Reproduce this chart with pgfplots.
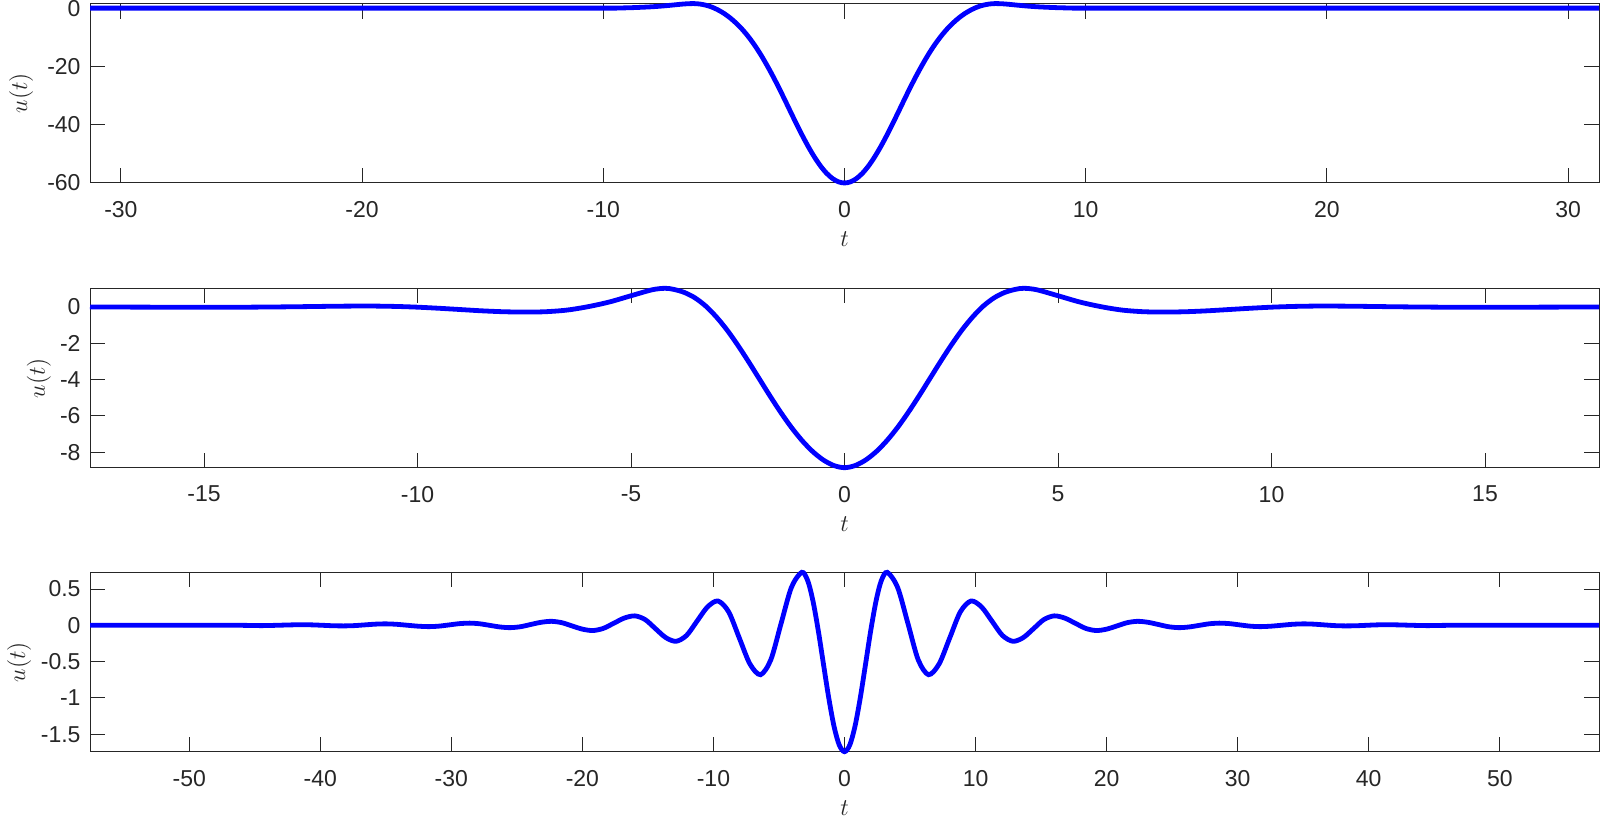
\documentclass[border=0pt]{standalone}
\usepackage{fontspec}
\setmainfont{Liberation Sans}
\usepackage{pgfplots}
\pgfplotsset{compat=1.18}
\definecolor{axgray}{rgb}{0.15,0.15,0.15}
\pgfplotsset{
  panel/.style={
    width=754.5pt, height=89.7pt, scale only axis,
    clip=false, anchor=south west,
    axis line style={axgray, line width=0.5pt},
    tick style={axgray, line width=0.5pt},
    major tick length=7.5pt,
    tick align=inside,
    /pgf/number format/assume math mode=true,
    ticklabel style={font=\fontsize{11.5}{13}\selectfont, text=axgray},
    xticklabel style={yshift=-5.7pt},
    yticklabel style={xshift=-1.2pt},
    label style={font=\fontsize{12.5}{15}\selectfont, text=axgray},
    xlabel={$t$}, ylabel={$u(t)$},
    xlabel style={at={(axis description cs:0.5,0)}, anchor=base, yshift=-32pt},
    scaled y ticks=false,
  },
  curve/.style={blue, line width=2.4pt, smooth, mark=none},
}
\begin{document}
\begin{tikzpicture}
\useasboundingbox (0,0) rectangle (800pt,409.5pt);

% top panel
\begin{axis}[panel, at={(45pt,318pt)},
  xmin=-31.28, xmax=31.28, ymin=-60, ymax=1.55,
  xtick={-30,-20,-10,0,10,20,30}, ytick={-60,-40,-20,0},
  ylabel style={at={(axis description cs:-0.0457,0.5)}, anchor=center}]
\addplot[curve] table {
-31.28 0
-11 0
-10 0
-9.5 0.03
-9 0.1
-8.5 0.25
-8 0.45
-7.5 0.75
-7 1.15
-6.75 1.35
-6.5 1.5
-6.25 1.55
-6 1.4
-5.75 1.0
-5.5 0.35
-5.25 -0.6
-5 -1.8
-4.75 -3.3
-4.5 -5.1
-4.25 -7.2
-4 -9.65
-3.75 -12.45
-3.5 -15.6
-3.25 -19.1
-3 -22.85
-2.75 -26.85
-2.5 -31.05
-2.25 -35.35
-2 -39.6
-1.75 -43.7
-1.5 -47.55
-1.25 -51.05
-1 -54.1
-0.75 -56.6
-0.5 -58.45
-0.25 -59.6
0 -60
0.25 -59.6
0.5 -58.45
0.75 -56.6
1 -54.1
1.25 -51.05
1.5 -47.55
1.75 -43.7
2 -39.6
2.25 -35.35
2.5 -31.05
2.75 -26.85
3 -22.85
3.25 -19.1
3.5 -15.6
3.75 -12.45
4 -9.65
4.25 -7.2
4.5 -5.1
4.75 -3.3
5 -1.8
5.25 -0.6
5.5 0.35
5.75 1.0
6 1.4
6.25 1.55
6.5 1.5
6.75 1.35
7 1.15
7.5 0.75
8 0.45
8.5 0.25
9 0.1
9.5 0.03
10 0
11 0
31.28 0
};
\end{axis}

% middle panel
\begin{axis}[panel, at={(45pt,175.65pt)},
  xmin=-17.67, xmax=17.67, ymin=-8.85, ymax=1.03,
  xtick={-15,-10,-5,0,5,10,15}, ytick={-8,-6,-4,-2,0},
  ylabel style={at={(axis description cs:-0.0338,0.5)}, anchor=center}]
\addplot[curve] table {
-17.67 0
-16 -0.01
-15 -0.015
-14 -0.01
-13 0.01
-12 0.04
-11.5 0.05
-11 0.05
-10.5 0.03
-10 -0.01
-9.5 -0.07
-9 -0.14
-8.5 -0.21
-8 -0.26
-7.5 -0.28
-7 -0.26
-6.5 -0.17
-6 0.02
-5.5 0.28
-5 0.62
-4.5 0.95
-4.2 1.03
-4 0.97
-3.75 0.80
-3.5 0.50
-3.25 0.05
-3 -0.55
-2.75 -1.27
-2.5 -2.10
-2.25 -3.00
-2 -3.94
-1.75 -4.88
-1.5 -5.78
-1.25 -6.61
-1 -7.34
-0.75 -7.95
-0.5 -8.42
-0.25 -8.73
0 -8.85
0.25 -8.73
0.5 -8.42
0.75 -7.95
1 -7.34
1.25 -6.61
1.5 -5.78
1.75 -4.88
2 -3.94
2.25 -3.00
2.5 -2.10
2.75 -1.27
3 -0.55
3.25 0.05
3.5 0.50
3.75 0.80
4 0.97
4.2 1.03
4.5 0.95
5 0.62
5.5 0.28
6 0.02
6.5 -0.17
7 -0.26
7.5 -0.28
8 -0.26
8.5 -0.21
9 -0.14
9.5 -0.07
10 -0.01
10.5 0.03
11 0.05
11.5 0.05
12 0.04
13 0.01
14 -0.01
15 -0.015
16 -0.01
17.67 0
};
\end{axis}

% bottom panel
\begin{axis}[panel, at={(45pt,33.65pt)},
  xmin=-57.57, xmax=57.57, ymin=-1.74, ymax=0.73,
  xtick={-50,-40,-30,-20,-10,0,10,20,30,40,50},
  ytick={-1.5,-1,-0.5,0,0.5},
  ylabel style={at={(axis description cs:-0.047,0.5)}, anchor=center}]
\addplot[curve] table {
-57.57 0
-50 0
-46.2 0
-44.6 -0.004
-43.8 -0.002
-43.0 0.002
-42.2 0.006
-41.4 0.008
-40.6 0.006
-39.8 0
-39.0 -0.006
-38.2 -0.008
-37.4 -0.004
-36.6 0.006
-35.8 0.016
-35.0 0.02
-34.18 0.014
-33.35 0.001
-32.53 -0.012
-31.7 -0.018
-30.93 -0.011
-30.15 0.006
-29.38 0.023
-28.6 0.03
-27.83 0.021
-27.05 -0.001
-26.28 -0.023
-25.5 -0.032
-24.71 -0.019
-23.93 0.012
-23.14 0.042
-22.35 0.055
-21.56 0.036
-20.78 -0.009
-19.99 -0.053
-19.2 -0.072
-18.4 -0.042
-17.6 0.029
-16.8 0.100
-16.0 0.13
-15.21 0.079
-14.43 -0.045
-13.64 -0.169
-12.85 -0.22
-12.05 -0.139
-11.25 0.058
-10.45 0.254
-9.65 0.335
-8.84 0.186
-8.03 -0.173
-7.22 -0.531
-6.41 -0.68
-5.62 -0.473
-4.84 0.025
-4.05 0.523
-3.26 0.73
-2.8 0.611
-2.4 0.329
-2.0 -0.074
-1.6 -0.541
-1.2 -1.002
-0.8 -1.391
-0.4 -1.649
0 -1.74
0.4 -1.649
0.8 -1.391
1.2 -1.002
1.6 -0.541
2.0 -0.074
2.4 0.329
2.8 0.611
3.26 0.73
4.05 0.523
4.84 0.025
5.62 -0.473
6.41 -0.68
7.22 -0.531
8.03 -0.173
8.84 0.186
9.65 0.335
10.45 0.254
11.25 0.058
12.05 -0.139
12.85 -0.22
13.64 -0.169
14.43 -0.045
15.21 0.079
16.0 0.13
16.8 0.100
17.6 0.029
18.4 -0.042
19.2 -0.072
19.99 -0.053
20.78 -0.009
21.56 0.036
22.35 0.055
23.14 0.042
23.93 0.012
24.71 -0.019
25.5 -0.032
26.28 -0.023
27.05 -0.001
27.83 0.021
28.6 0.03
29.38 0.023
30.15 0.006
30.93 -0.011
31.7 -0.018
32.53 -0.012
33.35 0.001
34.18 0.014
35.0 0.02
35.8 0.016
36.6 0.006
37.4 -0.004
38.2 -0.008
39.0 -0.006
39.8 0
40.6 0.006
41.4 0.008
42.2 0.006
43.0 0.002
43.8 -0.002
44.6 -0.004
46.2 0
50 0
57.57 0
};
\end{axis}
\end{tikzpicture}
\end{document}
